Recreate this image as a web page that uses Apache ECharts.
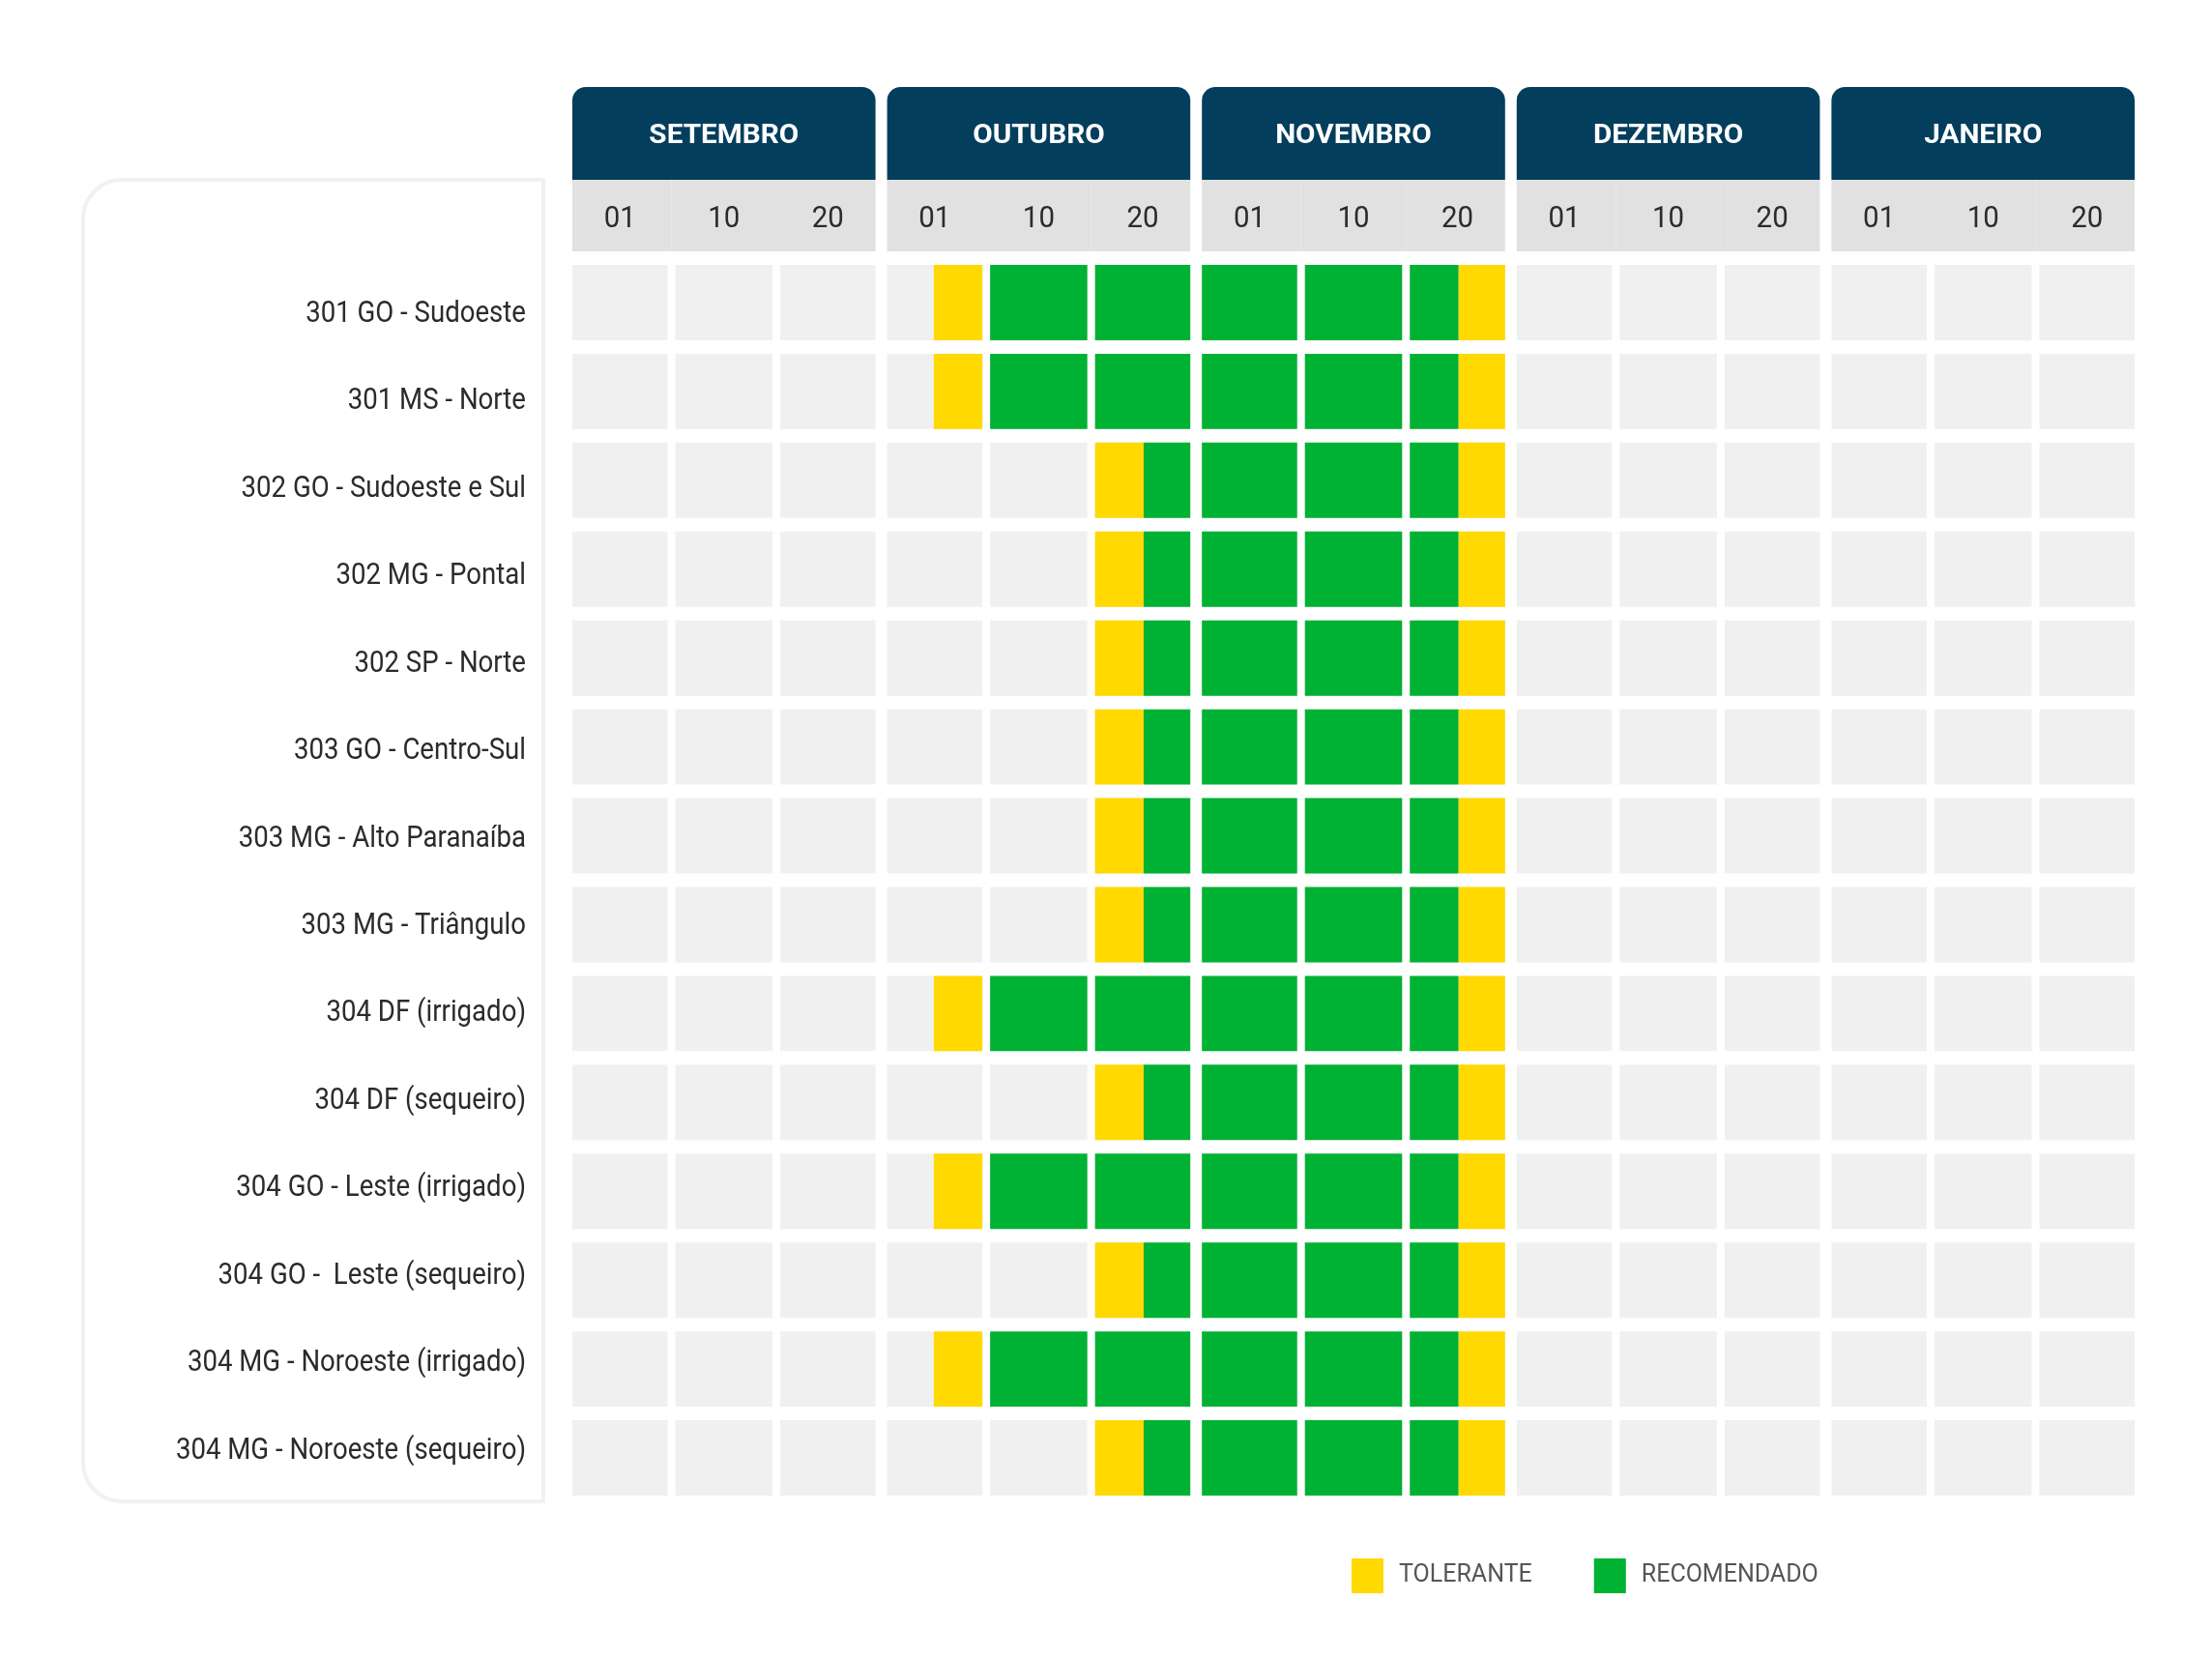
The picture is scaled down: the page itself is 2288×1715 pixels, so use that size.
<!DOCTYPE html>
<html><head><meta charset="utf-8">
<script src="https://cdn.jsdelivr.net/npm/echarts@6/dist/echarts.min.js"></script>
<style>html,body{margin:0;padding:0;background:#fff}#c{width:2288px;height:1715px}</style>
</head><body><div id="c"></div>
<script>
// ---- data ----
const months = ['SETEMBRO', 'OUTUBRO', 'NOVEMBRO', 'DEZEMBRO', 'JANEIRO'];
const dekadLabels = ['01', '10', '20'];
const regions = [
  '301 GO - Sudoeste',
  '301 MS - Norte',
  '302 GO - Sudoeste e Sul',
  '302 MG - Pontal',
  '302 SP - Norte',
  '303 GO - Centro-Sul',
  '303 MG - Alto Paranaíba',
  '303 MG - Triângulo',
  '304 DF (irrigado)',
  '304 DF (sequeiro)',
  '304 GO - Leste (irrigado)',
  '304 GO -  Leste (sequeiro)',
  '304 MG - Noroeste (irrigado)',
  '304 MG - Noroeste (sequeiro)'
];
// periods in dekads counted from 01 September (start, end, region index)
const tolerante = [
  [3.5, 4, 0], [8.5, 9, 0],
  [3.5, 4, 1], [8.5, 9, 1],
  [5, 5.5, 2], [8.5, 9, 2],
  [5, 5.5, 3], [8.5, 9, 3],
  [5, 5.5, 4], [8.5, 9, 4],
  [5, 5.5, 5], [8.5, 9, 5],
  [5, 5.5, 6], [8.5, 9, 6],
  [5, 5.5, 7], [8.5, 9, 7],
  [3.5, 4, 8], [8.5, 9, 8],
  [5, 5.5, 9], [8.5, 9, 9],
  [3.5, 4, 10], [8.5, 9, 10],
  [5, 5.5, 11], [8.5, 9, 11],
  [3.5, 4, 12], [8.5, 9, 12],
  [5, 5.5, 13], [8.5, 9, 13]
];
const recomendado = [
  [4, 8.5, 0],
  [4, 8.5, 1],
  [5.5, 8.5, 2],
  [5.5, 8.5, 3],
  [5.5, 8.5, 4],
  [5.5, 8.5, 5],
  [5.5, 8.5, 6],
  [5.5, 8.5, 7],
  [4, 8.5, 8],
  [5.5, 8.5, 9],
  [4, 8.5, 10],
  [5.5, 8.5, 11],
  [4, 8.5, 12],
  [5.5, 8.5, 13]
];

// ---- styling ----
const NAVY = '#033e5d', DAYGRAY = '#e1e1e1', CELL = '#f0f0f0';
const YELLOW = '#ffd900', GREEN = '#00b233', TEXT = '#2b2b2b';
const MONTH_GAP = 6, CELL_GAP = 4, ROW_PAD = 7;
const perMonth = dekadLabels.length;
const nDekads = months.length * perMonth;
function trimL(d) { return d % perMonth === 0 ? MONTH_GAP : CELL_GAP; }
function trimR(d) { return d % perMonth === perMonth - 1 ? MONTH_GAP : CELL_GAP; }

// background cells
const cells = [];
regions.forEach((r, ri) => { for (let d = 0; d < nDekads; d++) cells.push([d, ri]); });
const dekads = [];
for (let d = 0; d < nDekads; d++) dekads.push([d, 0]);
const monthSpans = months.map((m, i) => [i * perMonth, (i + 1) * perMonth, 0]);
const labelItems = regions.map((r, i) => [0, i]);

function rowY(api, row) {
  const c = api.coord([0, row]);
  const h = api.size([0, 1])[1];
  return [c[1] - h / 2 + ROW_PAD, h - 2 * ROW_PAD];
}

function renderCell(params, api) {
  const d = api.value(0), row = api.value(1);
  const x0 = api.coord([d, row])[0] + trimL(d);
  const x1 = api.coord([d + 1, row])[0] - trimR(d);
  const [y, h] = rowY(api, row);
  return { type: 'rect', shape: { x: x0, y: y, width: x1 - x0, height: h }, style: { fill: CELL } };
}

function renderPeriod(params, api) {
  const s = api.value(0), e = api.value(1), row = api.value(2);
  const [y, h] = rowY(api, row);
  const children = [];
  for (let d = Math.floor(s); d < Math.ceil(e); d++) {
    const a = Math.max(s, d), b = Math.min(e, d + 1);
    const x0 = api.coord([a, row])[0] + (a === d ? trimL(d) : 0);
    const x1 = api.coord([b, row])[0] - (b === d + 1 ? trimR(d) : 0);
    children.push({ type: 'rect', shape: { x: x0, y: y, width: x1 - x0, height: h }, style: { fill: api.visual('color') } });
  }
  return { type: 'group', children: children };
}

function renderLabel(params, api) {
  const p = api.coord([api.value(0), api.value(1)]);
  return { type: 'text', x: p[0] - 42, y: p[1], scaleX: 0.89,
    style: { text: regions[params.dataIndex], x: 0, y: 0, fill: TEXT, fontSize: 31, fontFamily: 'Roboto', align: 'right', verticalAlign: 'middle' } };
}

function renderMonth(params, api) {
  const cs = params.coordSys;
  const s = api.value(0), e = api.value(1);
  const x0 = api.coord([s, 0])[0] + MONTH_GAP;
  const x1 = api.coord([e, 0])[0] - MONTH_GAP;
  return {
    type: 'group',
    children: [
      { type: 'rect', shape: { x: x0, y: cs.y, width: x1 - x0, height: cs.height, r: [14, 14, 0, 0] }, style: { fill: NAVY } },
      { type: 'text', x: (x0 + x1) / 2, y: cs.y + cs.height / 2 + 3, scaleX: 1.1,
        style: { text: months[params.dataIndex], x: 0, y: 0, fill: '#ffffff', fontSize: 27, fontWeight: 'bold', fontFamily: 'Roboto', align: 'center', verticalAlign: 'middle' } }
    ]
  };
}

function renderDay(params, api) {
  const cs = params.coordSys;
  const d = api.value(0);
  const bx0 = api.coord([d, 0])[0], bx1 = api.coord([d + 1, 0])[0];
  const x0 = bx0 + (d % perMonth === 0 ? MONTH_GAP : 0);
  const x1 = bx1 - (d % perMonth === perMonth - 1 ? MONTH_GAP : 0);
  const cx = ((bx0 + trimL(d)) + (bx1 - trimR(d))) / 2;
  return {
    type: 'group',
    children: [
      { type: 'rect', shape: { x: x0, y: cs.y, width: x1 - x0, height: cs.height }, style: { fill: DAYGRAY } },
      { type: 'text', x: cx, y: cs.y + cs.height / 2 + 4, scaleX: 0.92,
        style: { text: dekadLabels[d % perMonth], x: 0, y: 0, fill: TEXT, fontSize: 32, fontFamily: 'Roboto', align: 'center', verticalAlign: 'middle' } }
    ]
  };
}

const hiddenX = (idx) => ({ type: 'value', gridIndex: idx, min: 0, max: nDekads, show: false });
const RIGHT = 74;

const chart = echarts.init(document.getElementById('c'));
chart.setOption({
  animation: false,
  backgroundColor: '#ffffff',
  graphic: [{
    type: 'rect', z: -10, silent: true,
    shape: { x: 86, y: 186, width: 476, height: 1367, r: [40, 0, 0, 40] },
    style: { fill: '#ffffff', stroke: '#f1f1f1', lineWidth: 4 }
  }],
  grid: [
    { left: 586, right: RIGHT, top: 267, height: 1287 },
    { left: 586, right: RIGHT, top: 90, height: 96 },
    { left: 586, right: RIGHT, top: 186, height: 74 },
    { left: 586, right: RIGHT, top: 280, height: 1266 }
  ],
  xAxis: [hiddenX(0), hiddenX(1), hiddenX(2), hiddenX(3)],
  yAxis: [
    { type: 'category', gridIndex: 0, data: regions, inverse: true, show: false },
    { type: 'category', gridIndex: 1, data: ['mes'], show: false },
    { type: 'category', gridIndex: 2, data: ['dia'], show: false },
    { type: 'category', gridIndex: 3, data: regions, inverse: true, show: false }
  ],
  legend: {
    data: ['TOLERANTE', 'RECOMENDADO'], left: 1393, top: 1607, icon: 'rect',
    itemWidth: 33, itemHeight: 36, itemGap: 64, selectedMode: false,
    textStyle: { fontSize: 25, color: '#555555', fontFamily: 'Roboto', padding: [0, 0, 0, 11] }
  },
  series: [
    { type: 'custom', name: 'cells', xAxisIndex: 0, yAxisIndex: 0, z: 2, silent: true,
      renderItem: renderCell, encode: { x: 0, y: 1 }, data: cells },
    { type: 'custom', name: 'TOLERANTE', xAxisIndex: 0, yAxisIndex: 0, z: 3,
      itemStyle: { color: YELLOW }, renderItem: renderPeriod, encode: { x: [0, 1], y: 2 }, data: tolerante },
    { type: 'custom', name: 'RECOMENDADO', xAxisIndex: 0, yAxisIndex: 0, z: 3,
      itemStyle: { color: GREEN }, renderItem: renderPeriod, encode: { x: [0, 1], y: 2 }, data: recomendado },
    { type: 'custom', name: 'months', xAxisIndex: 1, yAxisIndex: 1, silent: true,
      renderItem: renderMonth, encode: { x: [0, 1], y: 2 }, data: monthSpans },
    { type: 'custom', name: 'days', xAxisIndex: 2, yAxisIndex: 2, silent: true,
      renderItem: renderDay, encode: { x: 0, y: 1 }, data: dekads },
    { type: 'custom', name: 'labels', xAxisIndex: 3, yAxisIndex: 3, silent: true,
      renderItem: renderLabel, encode: { x: 0, y: 1 }, data: labelItems }
  ]
});
</script>
</body></html>
